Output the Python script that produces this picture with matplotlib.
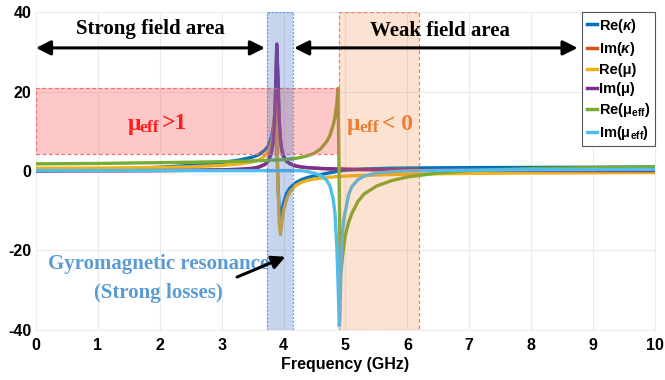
import matplotlib
matplotlib.use("Agg")
import matplotlib.pyplot as plt

plt.rcParams['mathtext.fontset'] = 'custom'
plt.rcParams['mathtext.rm'] = 'Liberation Sans:bold'
plt.rcParams['mathtext.it'] = 'Liberation Sans:italic:bold'
plt.rcParams['mathtext.bf'] = 'Liberation Sans:bold'
plt.rcParams['axes.unicode_minus'] = False

freq = [0, 0.5, 1, 1.5, 2, 2.5, 3, 3.3, 3.5, 3.6, 3.7, 3.75, 3.8, 3.83, 3.85,
        3.87, 3.89, 3.91, 3.93, 3.95, 3.97, 4.0, 4.05, 4.1, 4.2, 4.3, 4.4, 4.5,
        4.6, 4.7, 4.75, 4.8, 4.83, 4.86, 4.88, 4.9, 4.91, 4.92, 4.93, 4.94, 4.96,
        4.98, 5.0, 5.05, 5.1, 5.2, 5.3, 5.5, 5.75, 6.0, 6.5, 7, 8, 9, 10]

re_kappa = [0, 0.15, 0.35, 0.6, 0.95, 1.4, 2.1, 2.8, 3.5, 4.1, 5.3, 6.3, 8.2, 10.5, 13,
            16.5, 8, -3.5, -10, -12, -10.5, -8, -5.6, -4.3, -2.9, -2.1, -1.6, -1.2,
            -0.9, -0.6, -0.45, -0.3, -0.2, -0.1, -0.05, 0, 0.02, 0.04, 0.06, 0.08, 0.12,
            0.15, 0.2, 0.25, 0.3, 0.4, 0.5, 0.6, 0.7, 0.75, 0.8, 0.85, 0.9, 0.95, 1.0]

im_kappa = [0.05, 0.06, 0.07, 0.08, 0.11, 0.16, 0.28, 0.42, 0.65, 0.95, 1.6, 2.4, 4.3, 6.7, 10.5,
            19, 30.5, 23, 12.5, 7.6, 5.2, 3.6, 2.4, 1.8, 1.2, 0.95, 0.8, 0.7,
            0.6, 0.55, 0.52, 0.5, 0.48, 0.47, 0.47, 0.46, 0.46, 0.46, 0.46, 0.45, 0.45,
            0.44, 0.43, 0.42, 0.4, 0.38, 0.36, 0.33, 0.3, 0.28, 0.23, 0.18, 0.14, 0.11, 0.09]

re_mu = [0.7, 0.72, 0.75, 0.8, 0.9, 1.05, 1.4, 1.8, 2.3, 2.8, 3.8, 4.7, 6.5, 8.8, 12,
         17, 9, -4, -13, -16, -13.5, -10, -7, -5.3, -3.6, -2.8, -2.3, -2.0,
         -1.8, -1.6, -1.55, -1.5, -1.45, -1.42, -1.4, -1.38, -1.37, -1.36, -1.35, -1.34, -1.32,
         -1.3, -1.28, -1.25, -1.2, -1.15, -1.1, -1.0, -0.9, -0.8, -0.7, -0.6, -0.5, -0.45, -0.4]

im_mu = [0.05, 0.06, 0.07, 0.09, 0.12, 0.17, 0.3, 0.45, 0.7, 1.0, 1.7, 2.5, 4.5, 7, 11,
         20, 32, 24, 13, 8, 5.5, 3.8, 2.5, 1.9, 1.3, 1.0, 0.85, 0.75,
         0.65, 0.6, 0.55, 0.55, 0.5, 0.5, 0.5, 0.5, 0.5, 0.5, 0.5, 0.5, 0.48,
         0.47, 0.45, 0.44, 0.42, 0.4, 0.38, 0.35, 0.32, 0.3, 0.25, 0.2, 0.15, 0.12, 0.1]

re_mu_eff = [1.8, 1.85, 1.9, 2.0, 2.1, 2.2, 2.35, 2.45, 2.55, 2.6, 2.65, 2.7, 2.72, 2.74, 2.75,
             2.76, 2.77, 2.78, 2.8, 2.81, 2.82, 2.85, 2.9, 3.0, 3.2, 3.5, 3.9, 4.5,
             5.6, 7.5, 9, 11.5, 13.5, 17, 20.8, -5, -20, -26, -25, -23.5, -20.5,
             -18, -16, -13, -10.8, -7.7, -5.8, -3.8, -2.4, -1.5, -0.5, 0.1, 0.6, 0.85, 1.0]

im_mu_eff = [0.1, 0.1, 0.1, 0.1, 0.1, 0.1, 0.1, 0.1, 0.1, 0.1, 0.1, 0.1, 0.1, 0.1, 0.1,
             0.1, 0.1, 0.1, 0.1, 0.1, 0.1, 0.1, 0.1, 0.1, 0.1, 0.05, -0.2, -0.6,
             -1.1, -2.4, -3.8, -7, -10.5, -19, -28, -39, -37, -30, -24, -19.5, -14,
             -11.5, -10, -6, -4, -2.2, -1.3, -0.5, -0.15, 0.05, 0.15, 0.2, 0.3, 0.35, 0.4]

series_labels = [r'Re($\kappa$)', r'Im($\kappa$)', 'Re(μ)', 'Im(μ)',
                 r'Re(μ$_{\mathbf{eff}}$)', r'Im(μ$_{\mathbf{eff}}$)']
series_colors = ['#0072BD', '#D95319', '#EDB120', '#7E2F8E', '#77AC30', '#4DBEEE']

xticks = [0, 1, 2, 3, 4, 5, 6, 7, 8, 9, 10]
yticks = [-40, -20, 0, 20, 40]

fig = plt.figure(figsize=(6.65, 3.8), dpi=100)
ax = fig.add_axes([0.054, 0.132, 0.931, 0.836])

for vals, lab, col in zip([re_kappa, im_kappa, re_mu, im_mu, re_mu_eff, im_mu_eff],
                          series_labels, series_colors):
    ax.plot(freq, vals, color=col, lw=2.4, label=lab, solid_joinstyle='round', zorder=3)

ax.set_xlim(0, 10)
ax.set_ylim(-40, 40)
ax.set_xticks(xticks)
ax.set_yticks(yticks)
ax.grid(True, color='#ebebeb', lw=0.8, zorder=0)
ax.tick_params(length=0, labelsize=11.5)
ax.tick_params(axis='x', pad=6)
ax.tick_params(axis='y', pad=3)
for lbl in ax.get_xticklabels() + ax.get_yticklabels():
    lbl.set_fontweight('bold')
    lbl.set_family('Liberation Sans')
for sp in ax.spines.values():
    sp.set_color('#eeeeee')
ax.set_xlabel('Frequency (GHz)', fontsize=11.5, fontweight='bold', family='Liberation Sans',
              labelpad=3)

serif = 'Liberation Serif'


def mu_eff_label(x, y, tail, color, tail_offset):
    ax.annotate('μ', xy=(x, y), xytext=(0, 0), textcoords='offset points', color=color,
                fontsize=17, fontweight='bold', family=serif, ha='left', va='center', zorder=4)
    ax.annotate('eff', xy=(x, y), xytext=(8.6, -2.5), textcoords='offset points', color=color,
                fontsize=12.5, fontweight='bold', family=serif, ha='left', va='center', zorder=4)
    ax.annotate(tail, xy=(x, y), xytext=(tail_offset, 0.5), textcoords='offset points',
                color=color, fontsize=17, fontweight='bold', family=serif, ha='left',
                va='center', zorder=4)


mu_eff_label(1.486, 11.8, '>1', '#FF0000', 24.5)
mu_eff_label(5.024, 11.6, '< 0', '#ED7D31', 25.2)

ax.text(1.98, -23.3, 'Gyromagnetic resonance', color='#5B9BD5', fontsize=15,
        fontweight='bold', family=serif, ha='center', va='center', zorder=4)
ax.text(1.98, -30.8, '(Strong losses)', color='#5B9BD5', fontsize=15,
        fontweight='bold', family=serif, ha='center', va='center', zorder=4)

ax.text(1.85, 35.7, 'Strong field area', color='black', fontsize=15,
        fontweight='bold', family=serif, ha='center', va='center', zorder=6)
ax.text(6.53, 35.3, 'Weak field area', color='black', fontsize=15,
        fontweight='bold', family=serif, ha='center', va='center', zorder=6)

# shaded regions
ax.add_patch(plt.Rectangle((0, 4.3), 4.9, 16.6, facecolor='#FF5A5A', alpha=0.33,
                           edgecolor='none', zorder=5))
ax.add_patch(plt.Rectangle((0, 4.3), 4.9, 16.6, facecolor='none', edgecolor='#F07070',
                           lw=0.9, ls=(0, (3, 2)), zorder=5))
ax.add_patch(plt.Rectangle((3.73, -40), 0.42, 80, facecolor='#4472C4', alpha=0.3,
                           edgecolor='none', zorder=5))
ax.add_patch(plt.Rectangle((3.73, -40), 0.42, 80, facecolor='none', edgecolor='#5B9BD5',
                           lw=0.9, ls=(0, (1.5, 1.5)), zorder=5))
ax.add_patch(plt.Rectangle((4.89, -40), 1.3, 80, facecolor='#ED7D31', alpha=0.22,
                           edgecolor='none', zorder=5))
ax.add_patch(plt.Rectangle((4.89, -40), 1.3, 80, facecolor='none', edgecolor='#F08070',
                           lw=0.9, ls=(0, (3, 2)), zorder=5))

# arrows
arrow_kw = dict(arrowstyle='<|-|>', color='black', lw=2.2, mutation_scale=22,
                shrinkA=0, shrinkB=0)
ax.annotate('', xy=(3.7, 31), xytext=(0.0, 31), arrowprops=arrow_kw, zorder=7)
ax.annotate('', xy=(8.75, 31), xytext=(4.17, 31), arrowprops=arrow_kw, zorder=7)
ax.annotate('', xy=(4.03, -21.6), xytext=(3.25, -26.7),
            arrowprops=dict(arrowstyle='-|>', color='black', lw=2.2, mutation_scale=20,
                            shrinkA=0, shrinkB=0), zorder=7)

leg = ax.legend(loc='upper right', prop={'family': 'Liberation Sans',
                'weight': 'bold', 'size': 10.5}, handlelength=0.7, handletextpad=0.15,
                borderaxespad=0, borderpad=0.3, labelspacing=0.35, frameon=True,
                fancybox=False, edgecolor='#555555', framealpha=1)
leg.get_frame().set_linewidth(0.8)
leg.set_zorder(10)
for h in leg.get_lines():
    h.set_linewidth(2.5)

fig.savefig('out.png', dpi=100)
